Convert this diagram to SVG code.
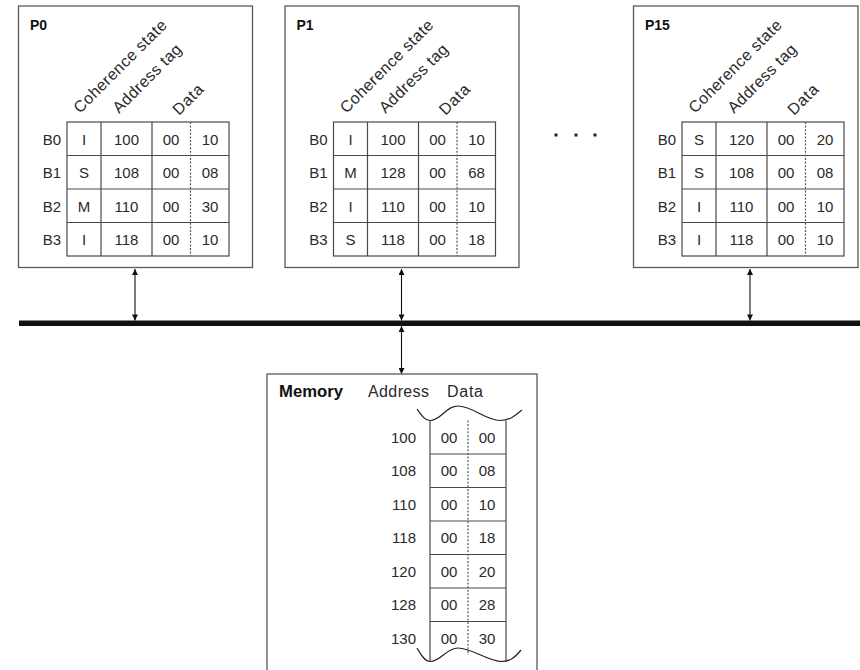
<svg xmlns="http://www.w3.org/2000/svg" width="860" height="670" viewBox="0 0 860 670">
<defs>
<style>
.box{fill:#fff;stroke:#5a5a5a;stroke-width:1.3}
.grid{fill:none;stroke:#4a4a4a;stroke-width:1.2}
.dot{stroke:#555;stroke-width:1.2;stroke-dasharray:2 1.6}
.t{font-family:"Liberation Sans",Arial,sans-serif;font-size:15px;fill:#2a2a2a}
.c{text-anchor:middle}
.e{text-anchor:end}
.b{font-weight:bold;fill:#111;font-size:14px}
.mh{font-size:16px}
.rot{font-family:"Liberation Sans",Arial,sans-serif;font-size:16px;fill:#2a2a2a}
.ln{stroke:#111;stroke-width:1.1;fill:none}
.wave{fill:none;stroke:#222;stroke-width:1.2}
</style>
<marker id="ah" viewBox="0 0 10 10" refX="10" refY="5" markerWidth="9" markerHeight="6" orient="auto-start-reverse" markerUnits="userSpaceOnUse">
<path d="M0,0 L10,5 L0,10 Z" fill="#111"/>
</marker>
</defs>

<g id="P0">
<rect class="box" x="18.5" y="6" width="234" height="261.5"/>
<text class="t b" x="30" y="30">P0</text>
<text class="rot" transform="translate(80,114) rotate(-45)" textLength="124" lengthAdjust="spacing">Coherence state</text>
<text class="rot" transform="translate(119,114) rotate(-45)" textLength="90" lengthAdjust="spacing">Address tag</text>
<text class="rot" transform="translate(179,116) rotate(-45)" textLength="36" lengthAdjust="spacing">Data</text>
<rect class="grid" x="67" y="122" width="162" height="134"/>
<path class="grid" d="M101,122V256M152,122V256M67,155.5H229M67,189H229M67,222.5H229"/>
<line class="dot" x1="190.5" y1="122" x2="190.5" y2="256"/>
<g class="t">
<text class="e" x="61" y="144.5">B0</text><text class="e" x="61" y="178">B1</text><text class="e" x="61" y="211.5">B2</text><text class="e" x="61" y="245">B3</text>
<text class="c" x="84" y="144.5">I</text><text class="c" x="84" y="178">S</text><text class="c" x="84" y="211.5">M</text><text class="c" x="84" y="245">I</text>
<text class="c" x="126.5" y="144.5">100</text><text class="c" x="126.5" y="178">108</text><text class="c" x="126.5" y="211.5">110</text><text class="c" x="126.5" y="245">118</text>
<text class="c" x="171" y="144.5">00</text><text class="c" x="171" y="178">00</text><text class="c" x="171" y="211.5">00</text><text class="c" x="171" y="245">00</text>
<text class="c" x="210" y="144.5">10</text><text class="c" x="210" y="178">08</text><text class="c" x="210" y="211.5">30</text><text class="c" x="210" y="245">10</text>
</g>
</g>

<g id="P1" transform="translate(266.5,0)">
<rect class="box" x="18.5" y="6" width="234" height="261.5"/>
<text class="t b" x="30" y="30">P1</text>
<text class="rot" transform="translate(80,114) rotate(-45)" textLength="124" lengthAdjust="spacing">Coherence state</text>
<text class="rot" transform="translate(119,114) rotate(-45)" textLength="90" lengthAdjust="spacing">Address tag</text>
<text class="rot" transform="translate(179,116) rotate(-45)" textLength="36" lengthAdjust="spacing">Data</text>
<rect class="grid" x="67" y="122" width="162" height="134"/>
<path class="grid" d="M101,122V256M152,122V256M67,155.5H229M67,189H229M67,222.5H229"/>
<line class="dot" x1="190.5" y1="122" x2="190.5" y2="256"/>
<g class="t">
<text class="e" x="61" y="144.5">B0</text><text class="e" x="61" y="178">B1</text><text class="e" x="61" y="211.5">B2</text><text class="e" x="61" y="245">B3</text>
<text class="c" x="84" y="144.5">I</text><text class="c" x="84" y="178">M</text><text class="c" x="84" y="211.5">I</text><text class="c" x="84" y="245">S</text>
<text class="c" x="126.5" y="144.5">100</text><text class="c" x="126.5" y="178">128</text><text class="c" x="126.5" y="211.5">110</text><text class="c" x="126.5" y="245">118</text>
<text class="c" x="171" y="144.5">00</text><text class="c" x="171" y="178">00</text><text class="c" x="171" y="211.5">00</text><text class="c" x="171" y="245">00</text>
<text class="c" x="210" y="144.5">10</text><text class="c" x="210" y="178">68</text><text class="c" x="210" y="211.5">10</text><text class="c" x="210" y="245">18</text>
</g>
</g>

<g id="P15" transform="translate(615,0)">
<rect class="box" x="18.5" y="6" width="224.5" height="261.5"/>
<text class="t b" x="30" y="30">P15</text>
<text class="rot" transform="translate(80,114) rotate(-45)" textLength="124" lengthAdjust="spacing">Coherence state</text>
<text class="rot" transform="translate(119,114) rotate(-45)" textLength="90" lengthAdjust="spacing">Address tag</text>
<text class="rot" transform="translate(179,116) rotate(-45)" textLength="36" lengthAdjust="spacing">Data</text>
<rect class="grid" x="67" y="122" width="162" height="134"/>
<path class="grid" d="M101,122V256M152,122V256M67,155.5H229M67,189H229M67,222.5H229"/>
<line class="dot" x1="190.5" y1="122" x2="190.5" y2="256"/>
<g class="t">
<text class="e" x="61" y="144.5">B0</text><text class="e" x="61" y="178">B1</text><text class="e" x="61" y="211.5">B2</text><text class="e" x="61" y="245">B3</text>
<text class="c" x="84" y="144.5">S</text><text class="c" x="84" y="178">S</text><text class="c" x="84" y="211.5">I</text><text class="c" x="84" y="245">I</text>
<text class="c" x="126.5" y="144.5">120</text><text class="c" x="126.5" y="178">108</text><text class="c" x="126.5" y="211.5">110</text><text class="c" x="126.5" y="245">118</text>
<text class="c" x="171" y="144.5">00</text><text class="c" x="171" y="178">00</text><text class="c" x="171" y="211.5">00</text><text class="c" x="171" y="245">00</text>
<text class="c" x="210" y="144.5">20</text><text class="c" x="210" y="178">08</text><text class="c" x="210" y="211.5">10</text><text class="c" x="210" y="245">10</text>
</g>
</g>

<g id="ellipsis" fill="#222">
<rect x="554.5" y="133.5" width="3" height="3"/>
<rect x="574.5" y="133.5" width="3" height="3"/>
<rect x="593.5" y="133.5" width="3" height="3"/>
</g>

<g id="bus">
<rect x="19" y="320.5" width="845" height="5.5" fill="#111"/>
</g>

<g id="connectors">
<line class="ln" x1="135" y1="269" x2="135" y2="320.5" marker-start="url(#ah)" marker-end="url(#ah)"/>
<line class="ln" x1="401.5" y1="269" x2="401.5" y2="320.5" marker-start="url(#ah)" marker-end="url(#ah)"/>
<line class="ln" x1="750" y1="269" x2="750" y2="320.5" marker-start="url(#ah)" marker-end="url(#ah)"/>
<line class="ln" x1="401.5" y1="326" x2="401.5" y2="374" marker-start="url(#ah)" marker-end="url(#ah)"/>
</g>

<g id="Memory">
<rect class="box" x="267" y="374" width="270" height="310"/>
<text class="t b mh" x="279" y="397" textLength="64" lengthAdjust="spacingAndGlyphs">Memory</text>
<text class="t mh" x="368" y="397" textLength="61" lengthAdjust="spacing">Address</text>
<text class="t mh" x="447" y="397" textLength="36" lengthAdjust="spacing">Data</text>
<path class="wave" d="M417,409 C422,416 425,420.5 430,420.5 C441,420.5 446,406 458,406 C472,406 486,420.5 500,420.5 C510,420.5 516,415 522,410"/>
<path class="wave" d="M417,648 C421,655 425,661.5 430,661.5 C441,661.5 446,648 458,648 C472,648 488,661.5 502,661.5 C511,661.5 516,656 521,650"/>
<path class="grid" d="M430,420.5V661.5M506,420.5V661.5M430,454H506M430,487.5H506M430,521H506M430,554.5H506M430,588H506M430,621.5H506"/>
<line class="dot" x1="468" y1="420.5" x2="468" y2="655"/>
<g class="t">
<text class="e" x="416" y="442.5">100</text><text class="e" x="416" y="476">108</text><text class="e" x="416" y="509.5">110</text><text class="e" x="416" y="543">118</text><text class="e" x="416" y="576.5">120</text><text class="e" x="416" y="610">128</text><text class="e" x="416" y="643.5">130</text>
<text class="c" x="449" y="442.5">00</text><text class="c" x="449" y="476">00</text><text class="c" x="449" y="509.5">00</text><text class="c" x="449" y="543">00</text><text class="c" x="449" y="576.5">00</text><text class="c" x="449" y="610">00</text><text class="c" x="449" y="643.5">00</text>
<text class="c" x="487" y="442.5">00</text><text class="c" x="487" y="476">08</text><text class="c" x="487" y="509.5">10</text><text class="c" x="487" y="543">18</text><text class="c" x="487" y="576.5">20</text><text class="c" x="487" y="610">28</text><text class="c" x="487" y="643.5">30</text>
</g>
</g>
</svg>
